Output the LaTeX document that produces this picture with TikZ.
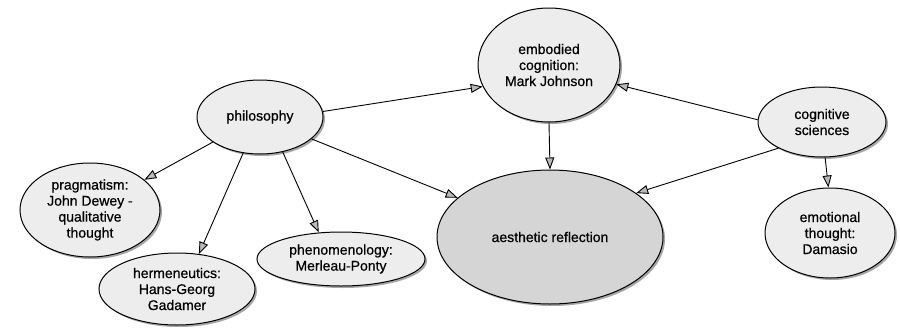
\documentclass[tikz,border=0pt]{standalone}
\usepackage{fontspec}
\setmainfont{Liberation Sans}[FakeBold=0.6,BoldFont=Liberation Sans]
\usetikzlibrary{shapes.geometric,arrows.meta,shadows}
\begin{document}
\begin{tikzpicture}[x=1pt,y=-1pt,
  bub/.style={ellipse,draw=black,line width=1pt,fill=gray!14,inner sep=0pt,align=center,
    font=\fontsize{14}{16}\selectfont\bfseries,
    drop shadow={shadow xshift=2pt,shadow yshift=-2pt,fill=gray!70,opacity=1}},
  big/.style={bub,fill=gray!33},
  link/.style={line width=0.9pt,-{Triangle[length=12pt,width=9pt,fill=gray!55]}}]
\useasboundingbox[fill=white] (0,0) rectangle (900,327);
\node[bub,minimum width=126pt,minimum height=74pt] (phil) at (260,117) {philosophy};
\node[bub,minimum width=142pt,minimum height=114pt] (emb) at (549,65) {embodied\\cognition:\\Mark Johnson};
\node[bub,minimum width=128pt,minimum height=70pt] (cog) at (822,122) {cognitive\\sciences};
\node[big,minimum width=226pt,minimum height=134pt] (aes) at (550,237) {aesthetic reflection};
\node[bub,minimum width=130pt,minimum height=90pt] (emo) at (830,233) {emotional\\thought:\\Damasio};
\node[bub,minimum width=140pt,minimum height=94pt] (prag) at (90,210) {pragmatism:\\John Dewey -\\qualitative\\thought};
\node[bub,minimum width=156pt,minimum height=72pt] (herm) at (177,289) {hermeneutics:\\Hans-Georg\\Gadamer};
\node[bub,minimum width=168pt,minimum height=54pt] (phen) at (341,259) {phenomenology:\\Merleau-Ponty};
\draw[link] (phil.5) -- (emb.198);
\draw[link] (phil.208) -- (prag.29);
\draw[link] (phil.245) -- (herm.58);
\draw[link] (phil.-57) -- (phen.130);
\draw[link] (phil.-23) -- (aes.157);
\draw[link] (emb.-90) -- (aes.90);
\draw[link] (cog.178) -- (emb.-16);
\draw[link] (cog.211) -- (aes.27);
\draw[link] (cog.-85) -- (emo.92);
\end{tikzpicture}
\end{document}
